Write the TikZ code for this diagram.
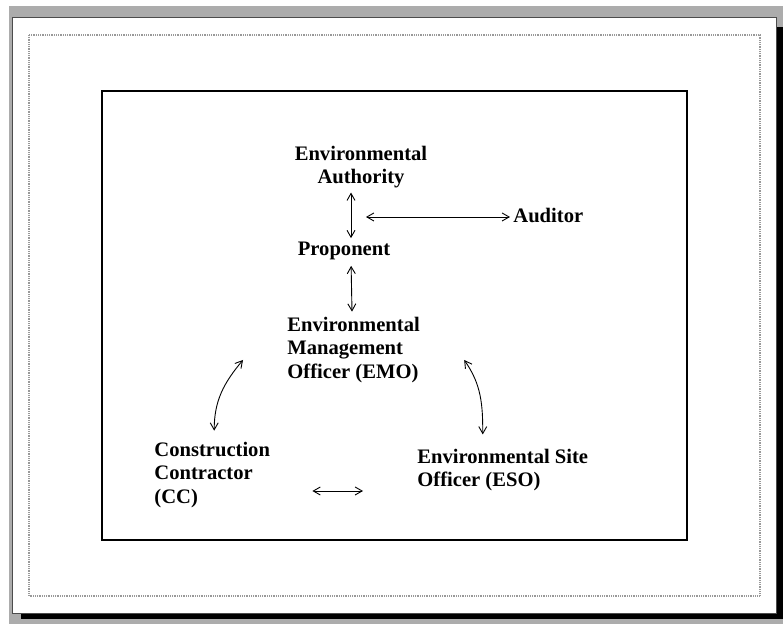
\documentclass[tikz,border=0pt]{standalone}
\usepackage{fontspec}
\setmainfont{Liberation Serif}
\usetikzlibrary{arrows.meta}

\tikzset{
  role/.style={font=\bfseries\fontsize{10.3}{11.8}\selectfont, inner sep=0pt},
  link/.style={{Straight Barb[length=3.5pt,width=4pt]}-{Straight Barb[length=3.5pt,width=4pt]}, line width=0.45pt},
}

\begin{document}
\begin{tikzpicture}[x=0.5pt,y=-0.5pt]

    \useasboundingbox (0,0) rectangle (783,624);

    % Marco de la hoja
    \fill[gray!65] (9,6) rectangle (783,624);
    \fill[black] (21,27) rectangle (783,619);
    \draw[fill=white, draw=black!70] (12,17) rectangle (776,613);
    \draw[gray!80, dash pattern=on 0.5pt off 0.4pt, line width=0.8pt] (29,35) rectangle (760,596);
    \draw[line width=0.6pt] (102,91) rectangle (687,540);

    % Roles
    \node[role, align=center] (ea) at (361,167) {Environmental\\Authority};
    \node[role] (pr) at (344,250.5) {Proponent};
    \node[role, anchor=west] (au) at (513,215) {Auditor};
    \node[role, align=left, anchor=west] (emo) at (287,350) {Environmental\\Management\\Officer (EMO)};
    \node[role, align=left, anchor=west] (cc) at (154,475) {Construction\\Contractor\\(CC)};
    \node[role, align=left, anchor=west] (eso) at (417,470) {Environmental Site\\Officer (ESO)};
    \coordinate (hub) at (366,217);

    % Relaciones
    \draw[link, shorten <=2pt, shorten >=1.5pt] ([xshift=-5pt]ea.south) -- ([xshift=3.5pt]pr.north);
    \draw[link, shorten <=3pt, shorten >=2.5pt] ([xshift=3.5pt]pr.south) -- ([xshift=-0.75pt]emo.north);
    \draw[link, shorten >=1.5pt] (hub) -- (hub -| au.west);
    \draw[link] ([xshift=-22pt,yshift=-5pt]emo.west) to[out=230,in=90] ([xshift=1pt,yshift=5.5pt]cc.north);
    \draw[link] ([xshift=22pt,yshift=-5pt]emo.east) to[out=-55,in=90] ([xshift=-10pt,yshift=7pt]eso.north);
    \draw[link] ([xshift=21pt,yshift=-8pt]cc.east) -- ([xshift=-27pt,yshift=-10.5pt]eso.west);

\end{tikzpicture}
\end{document}
